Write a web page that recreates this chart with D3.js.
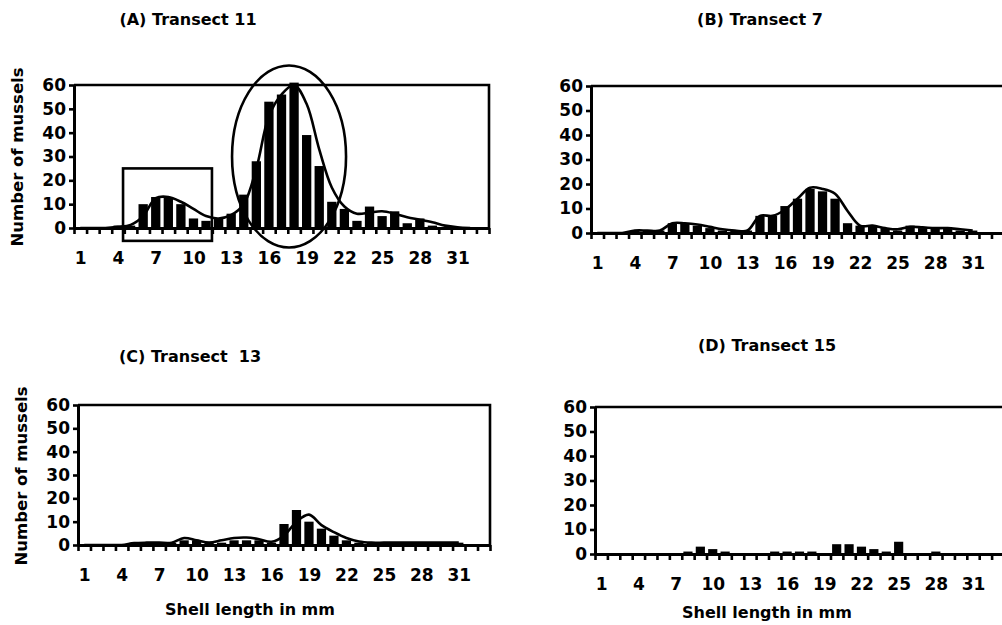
<!DOCTYPE html>
<html>
<head>
<meta charset="utf-8">
<script src="https://cdn.jsdelivr.net/npm/d3@7"></script>
<style>
  html, body { margin: 0; padding: 0; background: #fff; }
  svg text { font-family: "DejaVu Sans", "Liberation Sans", sans-serif; font-weight: bold; fill: #000; }
</style>
</head>
<body>
<div id="chart"></div>
<script>
// shell length classes (mm) and the labelled ones
const sizes = d3.range(1, 34);
const tickLabels = [1, 4, 7, 10, 13, 16, 19, 22, 25, 28, 31];
const yTicks = [0, 10, 20, 30, 40, 50, 60];

// bar counts per size class
const countsA = [0,0,0,1,1,10,13,13,10,4,3,4,6,14,28,53,56,61,39,26,11,8,3,9,5,7,2,4,1,0,0,0,0];
const countsB = [0,0,0,1,1,1,4,4,3,2,1,1,1,7,7,11,14,18,17,14,4,3,3,2,1,3,2,2,2,1,1,0,0];
const countsC = [0,0,0,0,1,1,1,1,2,2,1,1,2,2,2,1,9,15,10,7,4,2,1,1,1,1,1,1,1,1,1,0,0];
const countsD = [0,0,0,0,0,0,0,1,3,2,1,0,0,0,1,1,1,1,0,4,4,3,2,1,5,0,0,1,0,0,0,0,0];

// smoothed trend line (starts at size class 1)
const trendA = [0,0,0,0.5,1.3,5,12.5,13,11,8,5,4,5.5,10,25,47,56,60,52,33,17,9,6,6.5,7,6,4.5,3.5,2.4,1,0.3,0];
const trendB = [0,0,0,1,1,1,4,4,3.5,2.5,1.5,1,1,7,7,9.5,14,18.5,18,16,9,3,3,2,1.5,2.5,2.3,2,2,1.5,1];
const trendC = [0,0,0,0,0.8,1,1,1,3,2,1,2,3,3.2,2.5,1.4,4,10,13,8.5,5.5,3,1.5,1,1,1,1,1,1,1,1];

const titles = ["(A) Transect 11", "(B) Transect 7", "(C) Transect  13", "(D) Transect 15"];
const yLabel = "Number of mussels";
const xLabel = "Shell length in mm";

const W = 1002, H = 625;
const svg = d3.select("#chart").append("svg")
    .attr("width", W)
    .attr("height", H);

// panel frames
const panels = [
    { title: titles[0], counts: countsA, trend: trendA, x0: 74, x1: 489, top: 85, base: 228,
      tx: 188, ty: 25, yLab: [23, 157] },
    { title: titles[1], counts: countsB, trend: trendB, x0: 591, x1: 1004, top: 86, base: 233,
      tx: 760, ty: 25 },
    { title: titles[2], counts: countsC, trend: trendC, x0: 78, x1: 490, top: 405, base: 545,
      tx: 190, ty: 362, yLab: [27, 476], xLab: [250, 615] },
    { title: titles[3], counts: countsD, trend: null, x0: 595, x1: 1004, top: 407, base: 554,
      tx: 767, ty: 351, xLab: [767, 618] }
];

panels.forEach(p => {
    const g = svg.append("g");

    const x = d3.scaleLinear().domain([0.5, 33.5]).range([p.x0, p.x1]);
    const y = d3.scaleLinear().domain([0, 60]).range([p.base, p.top]);
    const bandW = x(1) - x(0);

    // bars
    g.selectAll("rect.bar")
        .data(sizes)
        .enter().append("rect")
        .attr("class", "bar")
        .attr("x", d => x(d) - bandW * 0.37)
        .attr("width", bandW * 0.74)
        .attr("y", (d, i) => y(p.counts[i]))
        .attr("height", (d, i) => p.base - y(p.counts[i]))
        .attr("fill", "#000");

    // trend line
    if (p.trend) {
        const line = d3.line()
            .x((d, i) => x(i + 1))
            .y(d => y(d))
            .curve(d3.curveCatmullRom.alpha(0.5));
        g.append("path")
            .datum(p.trend)
            .attr("d", line)
            .attr("fill", "none")
            .attr("stroke", "#000")
            .attr("stroke-width", 2.6)
            .attr("stroke-linejoin", "round");
    }

    // plot frame (top and right)
    g.append("path")
        .attr("d", `M${p.x0},${p.top}H${p.x1}V${p.base}`)
        .attr("fill", "none")
        .attr("stroke", "#000")
        .attr("stroke-width", 2.6);

    // x axis: ticks at class boundaries
    const xTicks = g.append("g")
        .attr("transform", `translate(0,${p.base})`)
        .call(d3.axisBottom(x)
            .tickValues(d3.range(0.5, 34, 1))
            .tickSize(6)
            .tickSizeOuter(0)
            .tickFormat(""));
    xTicks.select(".domain").attr("stroke-width", 3);
    xTicks.selectAll(".tick line").attr("stroke-width", 2.6);

    // x labels every third class
    const xLabs = g.append("g")
        .attr("transform", `translate(0,${p.base})`)
        .call(d3.axisBottom(x)
            .tickValues(tickLabels)
            .tickSize(0)
            .tickPadding(24));
    xLabs.select(".domain").remove();
    xLabs.selectAll("text")
        .style("font-size", "17px")
        .style("font-family", "DejaVu Sans")
        .style("font-weight", "bold");

    // y axis
    const yAx = g.append("g")
        .attr("transform", `translate(${p.x0},0)`)
        .call(d3.axisLeft(y)
            .tickValues(yTicks)
            .tickSize(5)
            .tickSizeOuter(0)
            .tickPadding(3));
    yAx.select(".domain").attr("stroke-width", 3);
    yAx.selectAll(".tick line").attr("stroke-width", 2.6);
    yAx.selectAll("text")
        .style("font-size", "17px")
        .style("font-family", "DejaVu Sans")
        .style("font-weight", "bold");

    // titles
    svg.append("text")
        .attr("x", p.tx)
        .attr("y", p.ty)
        .attr("text-anchor", "middle")
        .style("font-size", "16px")
        .style("white-space", "pre")
        .text(p.title);

    if (p.yLab) {
        svg.append("text")
            .attr("transform", `translate(${p.yLab[0]},${p.yLab[1]}) rotate(-90)`)
            .attr("text-anchor", "middle")
            .style("font-size", "16.5px")
            .text(yLabel);
    }
    if (p.xLab) {
        svg.append("text")
            .attr("x", p.xLab[0])
            .attr("y", p.xLab[1])
            .attr("text-anchor", "middle")
            .style("font-size", "16px")
            .text(xLabel);
    }

    p.g = g;
    p.x = x;
    p.y = y;
});

// highlight marks drawn on panel A
const pa = panels[0];
pa.g.append("rect")
    .attr("x", pa.x(4.4))
    .attr("y", pa.y(25))
    .attr("width", pa.x(11.47) - pa.x(4.4))
    .attr("height", pa.y(-5.4) - pa.y(25))
    .attr("fill", "none")
    .attr("stroke", "#000")
    .attr("stroke-width", 2.6);

pa.g.append("ellipse")
    .attr("cx", pa.x(17.6))
    .attr("cy", pa.y(30))
    .attr("rx", 57)
    .attr("ry", 91)
    .attr("fill", "none")
    .attr("stroke", "#000")
    .attr("stroke-width", 2.6);
</script>
</body>
</html>
